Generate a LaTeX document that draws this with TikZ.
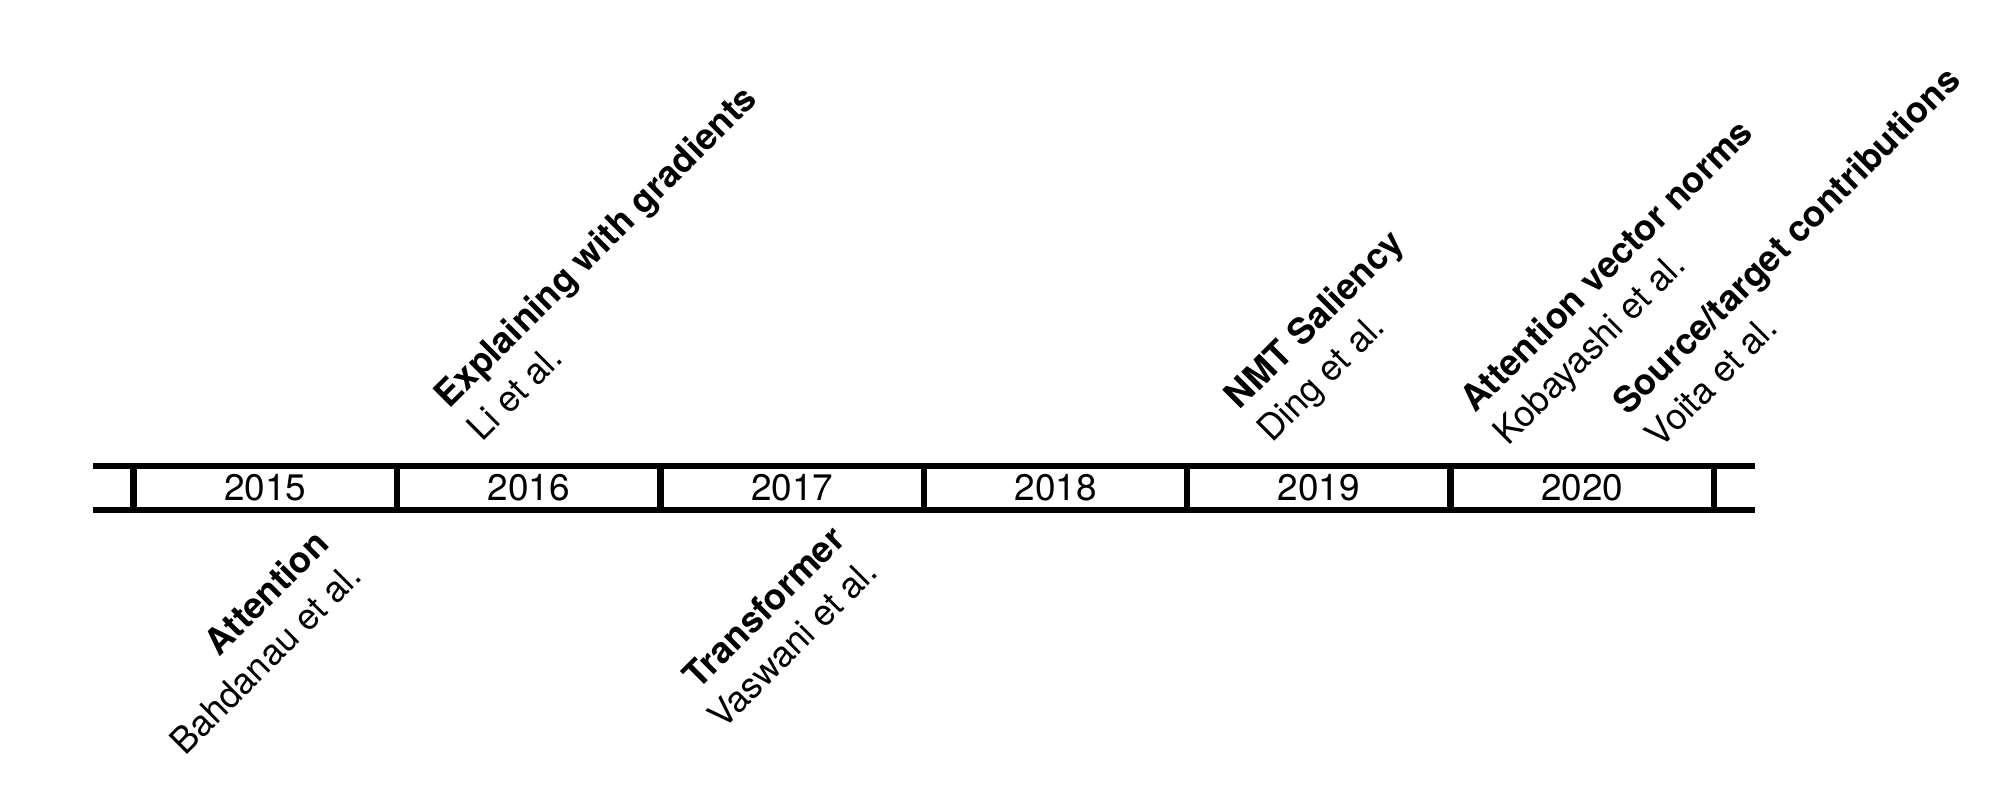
\documentclass[tikz,border=0pt]{standalone}
\usepackage{fontspec}
\setmainfont{TeX Gyre Heros}
\usetikzlibrary{positioning,calc}

\tikzset{
  % one year cell of the time line
  yearbox/.style={
    rectangle, draw=black, line width=1.8pt,
    minimum width=2.634cm, minimum height=0.44cm,
    inner sep=0pt, outer sep=0pt,
    font=\fontsize{10.5}{12.6}\selectfont
  },
  % open ends of the rail
  rail/.style={line width=1.8pt},
  % paper reference, tilted
  who/.style={rotate=45, inner sep=0pt, font=\fontsize{10.25}{12}\selectfont},
  % method name, tilted and bold
  what/.style={rotate=45, inner sep=0pt, font=\fontsize{10.25}{12}\selectfont\bfseries}
}

\begin{document}
\begin{tikzpicture}
  \useasboundingbox (0,0) rectangle (20.13,-8.05);

  % Year cells
  \node[yearbox] (y2015) at (2.653,-4.88) {2015};
  \node[yearbox, right=0pt of y2015] (y2016) {2016};
  \node[yearbox, right=0pt of y2016] (y2017) {2017};
  \node[yearbox, right=0pt of y2017] (y2018) {2018};
  \node[yearbox, right=0pt of y2018] (y2019) {2019};
  \node[yearbox, right=0pt of y2019] (y2020) {2020};

  % Open ends
  \coordinate[left=0.41cm of y2015.north west] (tl);
  \coordinate[left=0.41cm of y2015.south west] (bl);
  \coordinate[right=0.41cm of y2020.north east] (tr);
  \coordinate[right=0.41cm of y2020.south east] (br);
  \draw[rail] (y2015.north west) -- (tl);
  \draw[rail] (y2015.south west) -- (bl);
  \draw[rail] (y2020.north east) -- (tr);
  \draw[rail] (y2020.south east) -- (br);

  % Above the line
  \node[who, anchor=base west] (li) at (4.82,-4.43) {Li et al.};
  \node[what, anchor=base west] (grad) at ($(li.base west)+(135:0.46)$) {Explaining with gradients};
  \node[who, anchor=base west] (ding) at (12.72,-4.44) {Ding et al.};
  \node[what, anchor=base west] (nmt) at ($(ding.base west)+(135:0.46)$) {NMT Saliency};
  \node[who, anchor=base west] (koba) at (15.08,-4.47) {Kobayashi et al.};
  \node[what, anchor=base west] (norms) at ($(koba.base west)+(135:0.46)$) {Attention vector norms};
  \node[who, anchor=base west] (voita) at (16.60,-4.50) {Voita et al.};
  \node[what, anchor=base west] (srctgt) at ($(voita.base west)+(135:0.46)$) {Source/target contributions};

  % Below the line
  \node[who, anchor=base east] (bahd) at (3.64,-5.78) {Bahdanau et al.};
  \node[what, anchor=base east] (attn) at ($(bahd.base east)+(135:0.46)$) {Attention};
  \node[who, anchor=base east] (vasw) at (8.80,-5.74) {Vaswani et al.};
  \node[what, anchor=base east] (trf) at ($(vasw.base east)+(135:0.46)$) {Transformer};
\end{tikzpicture}
\end{document}
